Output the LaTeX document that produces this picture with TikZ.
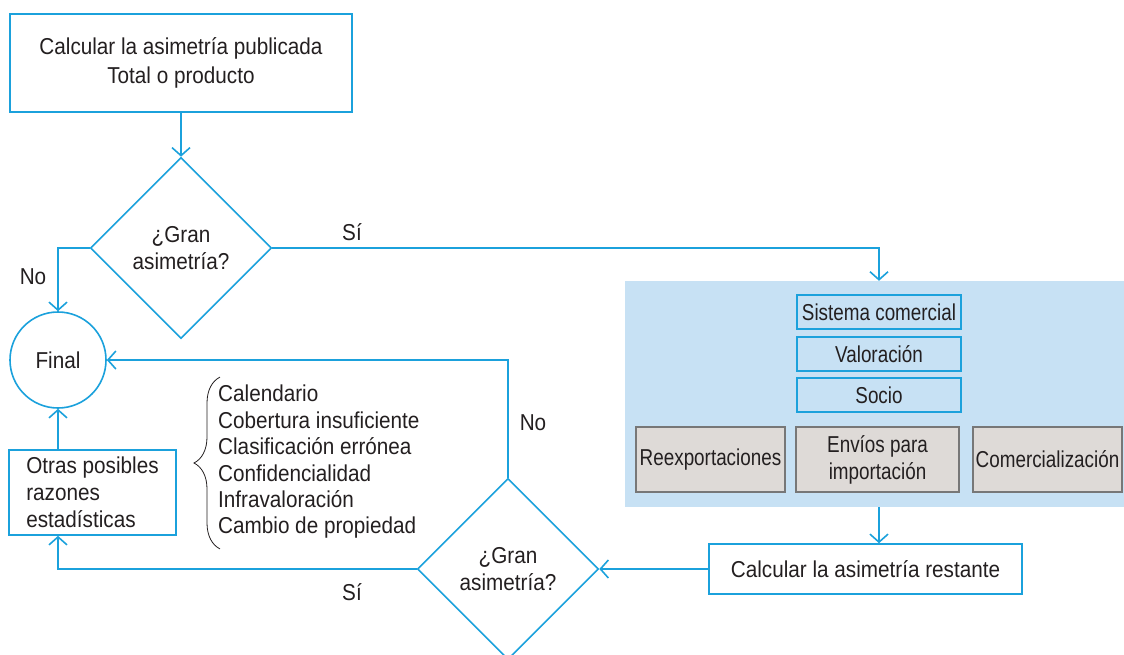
\documentclass[tikz,border=0pt]{standalone}
\usepackage{fontspec}
\setmainfont{Liberation Sans}[FakeStretch=0.9]
\newfontfamily\narrowfont{Liberation Sans}[FakeStretch=0.82]
\usetikzlibrary{shapes.geometric,arrows.meta,decorations.pathreplacing}
\definecolor{flowblue}{HTML}{1BA1DC}
\definecolor{panelblue}{HTML}{C7E1F4}
\definecolor{boxgrey}{HTML}{DEDAD7}
\definecolor{edgegrey}{HTML}{777777}
\definecolor{ink}{HTML}{231F20}

\begin{document}
\begin{tikzpicture}[x=1pt, y=-1pt,
        every node/.style={text=ink, font=\fontsize{23}{27}\selectfont},
        box/.style={draw=flowblue, line width=1.6pt, rectangle, align=center, inner sep=0pt},
        ask/.style={draw=flowblue, line width=1.6pt, diamond, align=center, inner sep=0pt, minimum width=181pt, minimum height=181pt},
        tagbox/.style={draw=flowblue, line width=2pt, minimum width=164pt, minimum height=34pt, inner sep=0pt, font=\narrowfont\fontsize{23}{27}\selectfont},
        greybox/.style={draw=edgegrey, fill=boxgrey, line width=1.2pt, minimum height=65pt, align=center, inner sep=0pt, font=\narrowfont\fontsize{23}{27}\selectfont},
        arr/.style={draw=flowblue, line width=1.6pt, -{Straight Barb[length=8pt, width=18pt]}}]
        \useasboundingbox (0,0) rectangle (1124,654);
        \node[fill=panelblue, minimum width=499pt, minimum height=226pt, inner sep=0pt] (panel) at (874.5,394) {};
        \node[box, minimum width=342pt, minimum height=98pt, font=\fontsize{23}{29}\selectfont] (calc) at (181,63) {Calcular la asimetría publicada\\Total o producto};
        \node[ask] (gran1) at (181,248) {¿Gran\\asimetría?};
        \node[circle, draw=flowblue, line width=1.6pt, minimum size=96pt, inner sep=0pt] (final) at (58,360) {Final};
        \node[box, minimum width=167pt, minimum height=85pt, align=left] (otras) at (92.5,492.5) {Otras posibles\\razones\\estadísticas};
        \node[align=left, anchor=west, inner sep=0pt, font=\fontsize{23}{26.4}\selectfont] (razones) at (218,462) {Calendario\\Cobertura insuficiente\\Clasificación errónea\\Confidencialidad\\Infravaloración\\Cambio de propiedad};
        \draw[decorate, decoration={brace, amplitude=26pt}, ink, line width=0.8pt] ([shift={(2,10)}]razones.south west) -- ([shift={(2,-8)}]razones.north west);
        \node[tagbox] (sistema) at (879,312) {Sistema comercial};
        \node[tagbox] (valor) at (879,354) {Valoración};
        \node[tagbox] (socio) at (879,395) {Socio};
        \node[greybox, minimum width=149pt] (reexp) at (710.5,459.5) {Reexportaciones};
        \node[greybox, minimum width=163pt] (envios) at (877.5,459.5) {Envíos para\\importación};
        \node[greybox, minimum width=149pt] (comerc) at (1047.5,459.5) {Comercialización};
        \node[box, minimum width=313pt, minimum height=50pt] (restante) at (865.5,569) {Calcular la asimetría restante};
        \node[ask] (gran2) at (508,569) {¿Gran\\asimetría?};
        \draw[arr] (calc) -- (gran1);
        \draw[arr] (gran1.east) -| (panel.north -| sistema);
        \draw[arr] (gran1.west) -| (final.north);
        \draw[arr] (panel.south -| sistema) -- (restante.north -| sistema);
        \draw[arr] (restante) -- (gran2);
        \draw[arr] (gran2.north) |- (final.east);
        \draw[arr] (gran2.west) -| (otras.south -| final);
        \draw[arr] (otras.north -| final) -- (final.south);
        \node (si1) at (352,232) {Sí};
        \node (no1) at (33,277) {No};
        \node (no2) at (533,423) {No};
        \node (si2) at (352,592) {Sí};
    \end{tikzpicture}
\end{document}
